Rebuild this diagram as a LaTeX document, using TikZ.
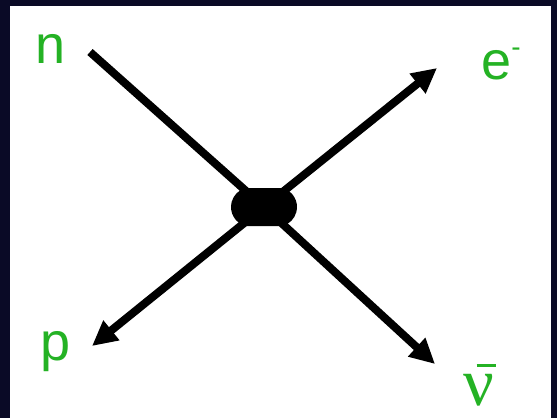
\documentclass[tikz,border=0pt]{standalone}
\usepackage{fontspec}
\setmainfont{Liberation Sans}
\newfontfamily\greekfont{Liberation Serif}
\usetikzlibrary{arrows.meta,shapes.misc}
\definecolor{nightblue}{RGB}{10,10,38}
\definecolor{labelgreen}{RGB}{36,178,36}
\begin{document}
\begin{tikzpicture}[x=0.5pt,y=-0.5pt,
  particle/.style={text=labelgreen,inner sep=0pt,font=\fontsize{27}{30}\selectfont},
  track/.style={line width=4pt,black},
  outgoing/.style={track,-{Triangle[length=12.5pt,width=12pt]}},
  blob/.style={rounded rectangle,rounded rectangle arc length=150,fill=black,minimum width=33pt,minimum height=19pt,inner sep=0pt}]
\path[use as bounding box] (0,0) rectangle (557,418);
\fill[nightblue] (0,0) rectangle (557,418);
\fill[white] (10,6) rectangle (551,418);
% labels
\node[particle] (n) at (51,49) {n};
\node[particle] (e) at (501,64) {e\raisebox{0.43em}{\fontsize{14}{14}\selectfont -}};
\node[particle] (p) at (56,352) {p};
\node[particle,font=\fontsize{34}{36}\greekfont] (nubar) at (480,385)
  {ν\kern-0.26em\rule[0.56em]{0.29em}{0.045em}};
% free ends of the tracks
\coordinate (nstart) at (90,52);
\coordinate (etip) at (437,68);
\coordinate (ptip) at (92,346);
\coordinate (nutip) at (435,364);
% interaction point
\coordinate (vertex) at (264,207);
\draw[track] (nstart) -- (vertex);
\draw[outgoing] (vertex) -- (etip);
\draw[outgoing] (vertex) -- (ptip);
\draw[outgoing] (vertex) -- (nutip);
\node[blob] (blob) at (vertex) {};
\end{tikzpicture}
\end{document}
